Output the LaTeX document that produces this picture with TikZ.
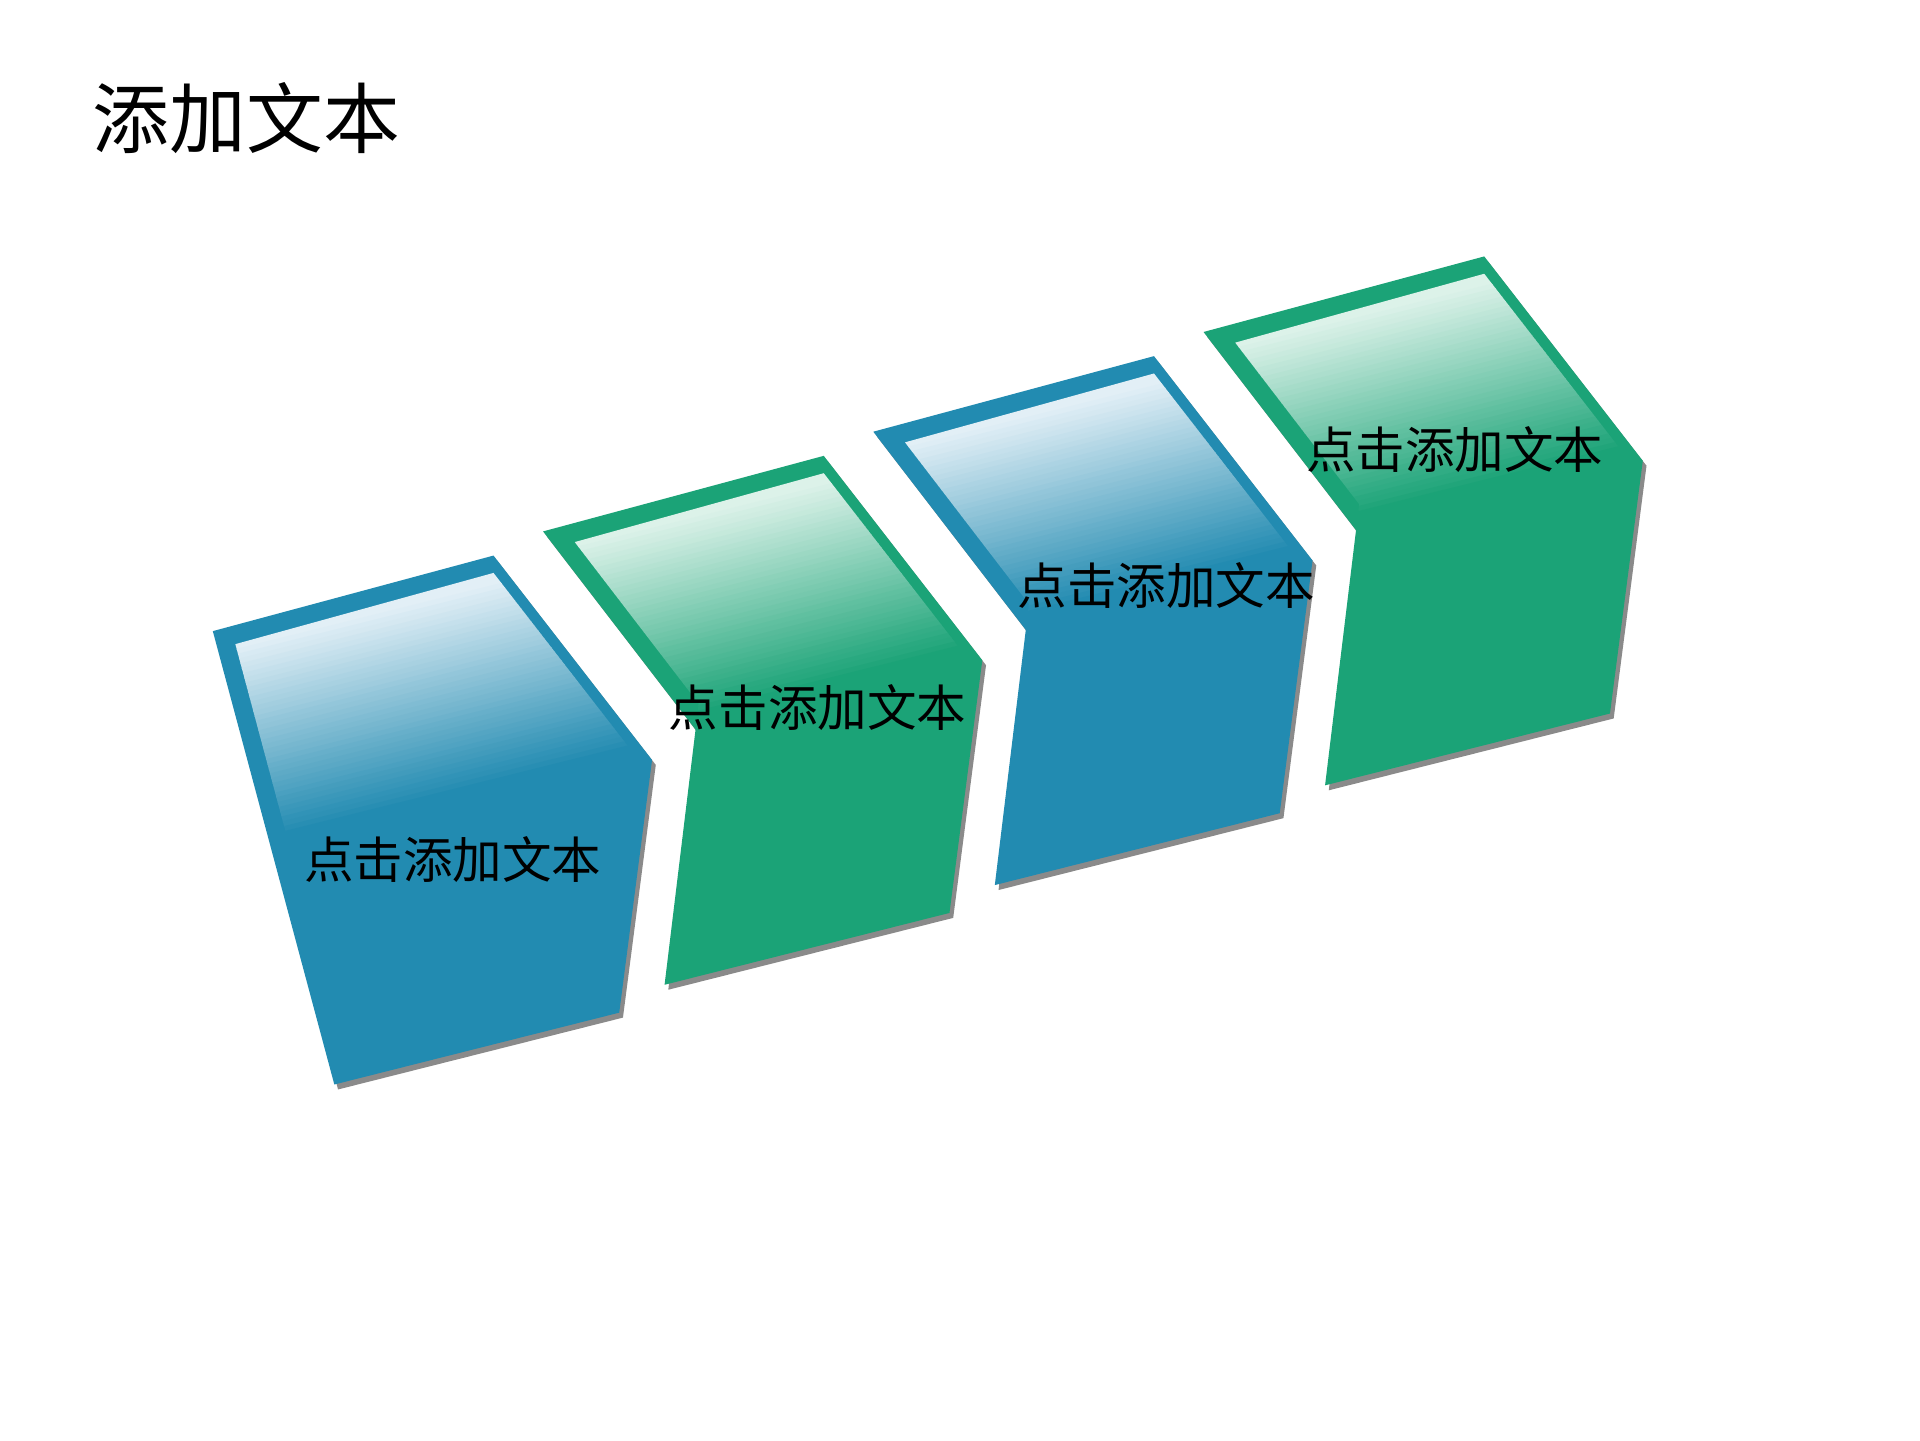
\documentclass[tikz,border=0pt]{standalone}
\usepackage{fontspec}
\newfontfamily\cjk{Noto Sans CJK SC}
\definecolor{blueC}{HTML}{228BB1}
\definecolor{blueL}{HTML}{E2EFF6}
\definecolor{greenC}{HTML}{1BA377}
\definecolor{greenL}{HTML}{DCF2E9}
\definecolor{shadowC}{HTML}{8A8A8A}
\tikzset{
  lab/.style={font=\cjk\fontsize{40}{48}\selectfont, inner sep=0pt, text=black},
  ttl/.style={font=\cjk\fontsize{62}{72}\selectfont, inner sep=0pt, text=black},
}
\begin{document}
\begin{tikzpicture}[x=1pt,y=-1pt]
\useasboundingbox[fill=white] (0,0) rectangle (1550,1162.5);

% ---------- panel 1 (straight left edge) ----------
\fill[shadowC, shift={(3,4)}] (171.8,509.5) -- (398.4,448.5) -- (526.4,613.5) -- (499.9,817.5) -- (269.9,875.5) -- cycle;
\fill[blueC] (171.8,509.5) -- (398.4,448.5) -- (526.4,613.5) -- (499.9,817.5) -- (269.9,875.5) -- cycle;
\begin{scope}
  \clip (190,520) -- (398.4,462.5) -- (524.9,625.5) -- (499.9,817.5) -- (284,871) -- cycle;
  \foreach \i in {0,...,39} {
    \pgfmathtruncatemacro\p{100*\i/39}
    \pgfmathsetmacro\ya{\i==0 ? 200 : 520+\i*4}
    \fill[blueC!\p!blueL, rotate around={14:(190,520)}] (-50,\ya) rectangle (700,{520+(\i+1)*4+0.8});
  }
\end{scope}

% ---------- panels 2-4 (notched left edge) ----------
\foreach \k/\c/\l in {0/greenC/greenL, 1/blueC/blueL, 2/greenC/greenL} {
  \begin{scope}[shift={(266.6*\k,-80.5*\k)}]
    \fill[shadowC, shift={(3,4)}] (438.4,429) -- (665,368) -- (793,533) -- (766.5,737) -- (536.5,795) -- (561.5,589) -- cycle;
    \fill[\c] (438.4,429) -- (665,368) -- (793,533) -- (766.5,737) -- (536.5,795) -- (561.5,589) -- cycle;
    \begin{scope}
      \clip (464,437.6) -- (665,382) -- (791.5,545) -- (766.5,737) -- (536.5,795) -- (561.5,589) -- (564,568) -- cycle;
      \foreach \i in {0,...,39} {
        \pgfmathtruncatemacro\p{100*\i/39}
        \pgfmathsetmacro\ya{\i==0 ? 100 : 437.6+\i*4}
        \fill[\c!\p!\l, rotate around={14:(464,437.6)}] (250,\ya) rectangle (1000,{437.6+(\i+1)*4+0.8});
      }
    \end{scope}
  \end{scope}
}

% ---------- texts ----------
\node[ttl] (title) at (199,95) {添加文本};
\node[lab] (t1) at (365.5,694) {点击添加文本};
\node[lab] (t2) at (660,571) {点击添加文本};
\node[lab] (t3) at (941.5,473) {点击添加文本};
\node[lab] (t4) at (1174.5,363) {点击添加文本};
\end{tikzpicture}
\end{document}
